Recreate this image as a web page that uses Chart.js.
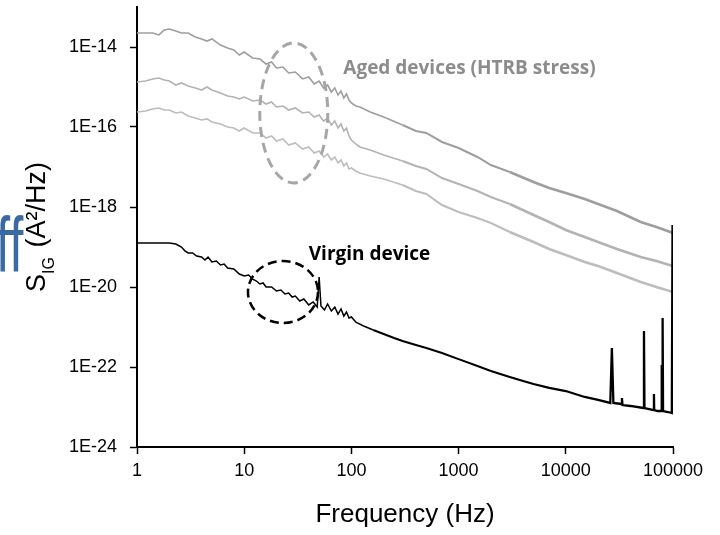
<!DOCTYPE html>
<html lang="en">
<head>
  <meta charset="UTF-8" />
  <title>Gate current noise spectra</title>
  <script src="https://cdn.jsdelivr.net/npm/chart.js"></script>
  <style>
    body { margin: 0; background: #fff; }
    .wrap { width: 720px; height: 535px; }
  </style>
</head>
<body>
  <div class="wrap"><canvas id="noiseChart"></canvas></div>

  <script>
    // frequency grid shared by the three aged-device spectra (Hz)
    const agedFreq = [1, 1.2, 1.4, 1.6, 1.8, 2, 2.3, 2.6, 3, 3.5,
      4, 4.5, 5, 6, 7, 8, 9, 10,
      12, 14, 16, 18, 20, 23, 26, 30, 35, 40,
      45, 50, 55, 60, 65, 70, 75, 80, 85, 90,
      95, 100,
      110, 120, 150, 200, 300, 400, 500, 700, 1000, 1500,
      2000, 3000, 5000, 7000, 10000, 15000, 20000, 30000, 50000, 70000, 100000];

    const agedTop = [2.24e-14, 2.24e-14, 2.24e-14, 2.00e-14, 2.66e-14, 2.82e-14, 2.51e-14, 2.24e-14, 2.24e-14, 1.78e-14,
      1.59e-14, 1.41e-14, 1.59e-14, 1.12e-14, 9.44e-15, 8.41e-15, 6.31e-15, 7.50e-15,
      5.31e-15, 5.01e-15, 3.76e-15, 4.22e-15, 2.99e-15, 3.16e-15, 2.24e-15, 2.37e-15, 1.59e-15, 1.78e-15,
      1.19e-15, 1.41e-15, 9.44e-16, 1.12e-15, 7.50e-16, 9.44e-16, 6.31e-16, 7.94e-16, 5.31e-16, 6.68e-16,
      4.73e-16, 3.98e-16,
      3.35e-16, 3.16e-16, 2.37e-16, 1.78e-16, 1.12e-16, 7.94e-17, 7.08e-17, 4.22e-17, 2.99e-17, 1.78e-17,
      1.12e-17, 7.50e-18, 4.22e-18, 2.99e-18, 2.24e-18, 1.59e-18, 1.19e-18, 7.94e-19, 4.22e-19, 3.16e-19, 2.24e-19];

    const agedMid = [1.33e-15, 1.41e-15, 1.59e-15, 1.68e-15, 1.50e-15, 1.41e-15, 1.12e-15, 1.26e-15, 1.06e-15, 9.44e-16,
      8.41e-16, 1.00e-15, 8.41e-16, 7.08e-16, 5.96e-16, 5.62e-16, 5.01e-16, 5.62e-16,
      4.47e-16, 4.73e-16, 3.76e-16, 4.22e-16, 3.16e-16, 3.35e-16, 2.66e-16, 2.99e-16, 2.24e-16, 2.37e-16,
      1.78e-16, 2.00e-16, 1.41e-16, 1.68e-16, 1.12e-16, 1.41e-16, 9.44e-17, 1.19e-16, 7.94e-17, 9.44e-17,
      5.96e-17, 4.73e-17,
      3.76e-17, 3.16e-17, 2.66e-17, 2.00e-17, 1.41e-17, 1.06e-17, 8.91e-18, 5.31e-18, 3.76e-18, 2.51e-18,
      1.78e-18, 1.19e-18, 6.31e-19, 4.22e-19, 2.66e-19, 1.78e-19, 1.33e-19, 8.91e-20, 5.62e-20, 4.47e-20, 3.35e-20];

    const agedLow = [2.37e-16, 2.51e-16, 2.82e-16, 2.99e-16, 2.66e-16, 2.66e-16, 2.24e-16, 2.37e-16, 1.88e-16, 1.68e-16,
      1.50e-16, 1.59e-16, 1.33e-16, 1.19e-16, 1.00e-16, 9.44e-17, 7.94e-17, 9.44e-17,
      7.08e-17, 7.08e-17, 5.31e-17, 5.96e-17, 4.47e-17, 5.01e-17, 3.55e-17, 3.98e-17, 2.82e-17, 3.16e-17,
      2.24e-17, 2.51e-17, 1.78e-17, 2.11e-17, 1.50e-17, 1.78e-17, 1.26e-17, 1.50e-17, 1.06e-17, 1.26e-17,
      8.91e-18, 9.44e-18,
      7.94e-18, 7.08e-18, 5.96e-18, 5.01e-18, 3.55e-18, 2.51e-18, 2.11e-18, 1.12e-18, 7.50e-19, 5.31e-19,
      3.98e-19, 2.37e-19, 1.33e-19, 8.91e-20, 6.31e-20, 4.22e-20, 3.35e-20, 2.24e-20, 1.33e-20, 1.00e-20, 7.50e-21];

    // virgin device, with the mains / switching spikes
    const virginFreq = [1, 1.5, 2, 2.3, 2.6, 2.8, 3, 3.3, 3.6, 4,
      4.3, 4.6, 5, 5.5, 6, 6.5, 7, 8, 9, 10,
      11, 12, 13, 14, 15, 16, 18, 20, 22, 24,
      26, 28, 30, 33, 36, 40, 44, 48, 50, 52,
      56, 60, 65, 70, 75, 80, 85, 90, 95, 100,
      110, 130, 160, 200, 250, 300, 400, 500, 700, 1000,
      1500, 2000, 3000, 4000, 5000, 7000, 10000, 15000, 20000, 26000,
      26900, 27800, 33000, 33400, 33800, 40000, 53000, 53600, 54200, 60000,
      66000, 66400, 66800, 72000, 77500, 78500, 79200, 80000, 80800, 90000,
      97500, 99000, 100000];

    const virginPsd = [1.26e-19, 1.26e-19, 1.26e-19, 1.19e-19, 1.00e-19, 7.94e-20, 7.08e-20, 7.08e-20, 5.96e-20, 5.62e-20,
      4.73e-20, 5.62e-20, 4.22e-20, 4.47e-20, 3.55e-20, 3.76e-20, 2.99e-20, 2.82e-20, 2.11e-20, 1.88e-20,
      2.00e-20, 1.58e-20, 1.41e-20, 1.19e-20, 1.26e-20, 1.00e-20, 1.00e-20, 7.94e-21, 8.41e-21, 6.68e-21,
      7.08e-21, 5.62e-21, 5.96e-21, 4.47e-21, 5.01e-21, 3.55e-21, 4.22e-21, 3.16e-21, 1.78e-20, 3.35e-21,
      2.66e-21, 3.76e-21, 2.51e-21, 3.16e-21, 2.11e-21, 2.82e-21, 1.88e-21, 2.37e-21, 1.68e-21, 1.78e-21,
      1.33e-21, 1.06e-21, 8.41e-22, 6.68e-22, 5.31e-22, 4.47e-22, 3.55e-22, 2.99e-22, 2.24e-22, 1.58e-22,
      1.06e-22, 7.94e-23, 5.62e-23, 4.47e-23, 3.76e-23, 2.99e-23, 2.51e-23, 1.78e-23, 1.50e-23, 1.26e-23,
      2.99e-22, 1.26e-23, 1.19e-23, 1.68e-23, 1.12e-23, 1.06e-23, 9.44e-24, 7.94e-22, 9.44e-24, 8.91e-24,
      8.41e-24, 2.11e-23, 8.41e-24, 7.94e-24, 7.94e-24, 1.12e-22, 7.94e-24, 1.68e-21, 7.94e-24, 7.50e-24,
      7.08e-24, 3.55e-19, 7.08e-24];

    const xTickValues = [1, 10, 100, 1000, 10000, 100000];
    const yTickValues = [1e-24, 1e-22, 1e-20, 1e-18, 1e-16, 1e-14];

    const FONT = '"Liberation Sans", Arial, sans-serif';

    function toPoints(xs, ys) {
      return xs.map((f, i) => ({ x: f, y: ys[i] }));
    }

    // traces get heavier towards high frequency, where the measured spectrum is noisier
    function graded(steps) {
      return ctx => {
        let w = steps[0][1];
        steps.forEach(([f, width]) => { if (ctx.p0.parsed.x >= f) w = width; });
        return w;
      };
    }
    const agedWidths = [[0, 1.6], [300, 2.0], [3000, 2.6]];
    const virginWidths = [[0, 1.5], [150, 1.9], [2000, 2.3]];

    // dashed callout ellipses and labels, anchored in data space
    const callouts = [
      { f: 29, v: 2.24e-16, rx: 34, ry: 70, color: '#a6a6a6', width: 3, dash: [10, 6] },
      { f: 23, v: 7.5e-21, rx: 35, ry: 31, color: '#000', width: 2.5, dash: [9, 5] }
    ];
    const notes = [
      { text: 'Aged devices (HTRB stress)', f: 84, v: 2.11e-15, color: '#8c8c8c' },
      { text: 'Virgin device', f: 40, v: 4.73e-20, color: '#000' }
    ];

    const decorations = {
      id: 'decorations',
      afterDraw(chart) {
        const { ctx, scales: { x, y } } = chart;
        ctx.save();

        callouts.forEach(c => {
          ctx.beginPath();
          ctx.setLineDash(c.dash);
          ctx.lineWidth = c.width;
          ctx.strokeStyle = c.color;
          ctx.ellipse(x.getPixelForValue(c.f), y.getPixelForValue(c.v), c.rx, c.ry, 0, 0, Math.PI * 2);
          ctx.stroke();
        });
        ctx.setLineDash([]);

        ctx.font = 'bold 19px "Open Sans", Lato, sans-serif';
        ctx.textBaseline = 'alphabetic';
        ctx.textAlign = 'left';
        notes.forEach(n => {
          ctx.fillStyle = n.color;
          ctx.fillText(n.text, x.getPixelForValue(n.f), y.getPixelForValue(n.v));
        });

        // y axis title with subscript
        const big = '27px ' + FONT;
        const small = '16px ' + FONT;
        const rest = ' (A\u00B2/Hz)';
        ctx.font = big;
        const wS = ctx.measureText('S').width;
        const wR = ctx.measureText(rest).width;
        ctx.font = small;
        const wIG = ctx.measureText('IG').width;
        ctx.translate(45, 228);
        ctx.rotate(-Math.PI / 2);
        ctx.fillStyle = '#000';
        let x0 = -(wS + wIG + wR) / 2;
        ctx.font = big;
        ctx.fillText('S', x0, 0);
        ctx.font = small;
        ctx.fillText('IG', x0 + wS, 9);
        ctx.font = big;
        ctx.fillText(rest, x0 + wS + wIG + 2, 0);
        ctx.restore();

        // clipped fragment of a neighbouring slide label on the left edge
        ctx.save();
        ctx.fillStyle = '#3b6aa3';
        ctx.font = '78px ' + FONT;
        ctx.translate(-4, 272);
        ctx.scale(0.65, 1);
        ctx.fillText('ff', 0, 0);
        ctx.restore();
      }
    };

    Chart.defaults.font.family = FONT;
    Chart.defaults.color = '#000';

    new Chart(document.getElementById('noiseChart'), {
      type: 'line',
      data: {
        datasets: [
          { label: 'Virgin device', data: toPoints(virginFreq, virginPsd), borderColor: '#000', borderWidth: 1.5,
            segment: { borderWidth: graded(virginWidths) } },
          { label: 'Aged 1', data: toPoints(agedFreq, agedTop), borderColor: '#9e9e9e', borderWidth: 1.6,
            segment: { borderWidth: graded(agedWidths) } },
          { label: 'Aged 2', data: toPoints(agedFreq, agedMid), borderColor: '#b3b3b3', borderWidth: 1.6,
            segment: { borderWidth: graded(agedWidths) } },
          { label: 'Aged 3', data: toPoints(agedFreq, agedLow), borderColor: '#bdbdbd', borderWidth: 1.6,
            segment: { borderWidth: graded(agedWidths) } }
        ]
      },
      options: {
        responsive: true,
        maintainAspectRatio: false,
        animation: false,
        layout: { padding: { left: 0, right: 47, top: 7, bottom: 0 } },
        elements: { point: { radius: 0 }, line: { tension: 0 } },
        plugins: { legend: { display: false }, tooltip: { enabled: false } },
        scales: {
          x: {
            type: 'logarithmic',
            min: 1,
            max: 100000,
            border: { color: '#000', width: 2 },
            grid: { drawOnChartArea: false, tickLength: 7, tickColor: '#000', tickWidth: 1.5 },
            ticks: {
              autoSkip: false, maxRotation: 0, padding: 6, color: '#000',
              font: { size: 18 },
              callback: v => String(v)
            },
            afterBuildTicks: s => { s.ticks = xTickValues.map(v => ({ value: v })); },
            afterFit: s => { s.height = 88; },
            title: { display: true, text: 'Frequency (Hz)', font: { size: 26 }, color: '#000', padding: { top: 0, bottom: 5 } }
          },
          y: {
            type: 'logarithmic',
            min: 1e-24,
            max: 1e-13,
            border: { color: '#000', width: 2 },
            grid: { drawOnChartArea: false, tickLength: 7, tickColor: '#000', tickWidth: 1.5 },
            ticks: {
              autoSkip: false, padding: 13, color: '#000',
              font: { size: 18 },
              callback: v => '1E' + Math.round(Math.log10(v))
            },
            afterBuildTicks: s => { s.ticks = yTickValues.map(v => ({ value: v })); },
            afterFit: s => { s.width = 137; s.paddingTop = 0; s.paddingBottom = 0; }
          }
        }
      },
      plugins: [decorations]
    });
  </script>
</body>
</html>
